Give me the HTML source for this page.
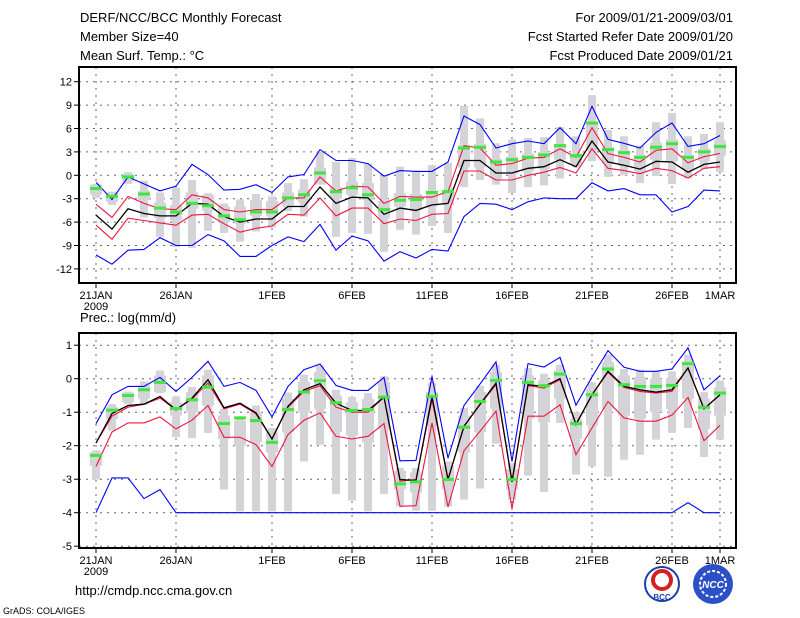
<!DOCTYPE html>
<html><head><meta charset="utf-8"><style>
body{margin:0;background:#fff;}
svg{display:block;font-family:"Liberation Sans",sans-serif;}
</style></head><body>
<svg id="c" width="800" height="618" viewBox="0 0 800 618">
<g font-size="13" fill="#000">
<text x="80" y="22">DERF/NCC/BCC Monthly Forecast</text>
<text x="80" y="41">Member Size=40</text>
<text x="80" y="60">Mean Surf. Temp.: °C</text>
</g>
<g font-size="13" fill="#000" text-anchor="end">
<text x="733" y="22">For 2009/01/21-2009/03/01</text>
<text x="733" y="41">Fcst Started Refer Date 2009/01/20</text>
<text x="733" y="60">Fcst Produced Date 2009/01/21</text>
</g>
<text x="80" y="322" font-size="13">Prec.: log(mm/d)</text>
<text x="75" y="595" font-size="13">http://cmdp.ncc.cma.gov.cn</text>
<text x="3" y="614" font-size="9">GrADS: COLA/IGES</text>
<g>
<circle cx="662" cy="584" r="17" fill="#fff" stroke="#1a3fa8" stroke-width="2"/>
<circle cx="662" cy="580" r="9" fill="none" stroke="#d42020" stroke-width="4"/>
<text x="662" y="600" font-size="8" text-anchor="middle" fill="#1a3fa8" font-weight="bold">BCC</text>
</g>
<g>
<circle cx="713" cy="584" r="20" fill="#2b50c8"/>
<circle cx="713" cy="584" r="13" fill="none" stroke="#fff" stroke-width="2" stroke-dasharray="3 2"/>
<text x="713" y="588" font-size="10" text-anchor="middle" fill="#fff" font-weight="bold" font-style="italic">NCC</text>
</g>
<g id="top"></g>
<g id="bot"></g>
</svg>
<script>
const dateLabels=["21JAN","26JAN","1FEB","6FEB","11FEB","16FEB","21FEB","26FEB","1MAR"];
const dateIdx=[0,5,11,16,21,26,31,36,39];
const topTicks=[12,9,6,3,0,-3,-6,-9,-12];
const botTicks=[1,0,-1,-2,-3,-4,-5];
const tMean=[-5.1,-6.9,-4.3,-4.9,-5.2,-5.2,-3.6,-3.7,-5.3,-6.0,-5.6,-5.6,-4.0,-4.0,-1.5,-3.6,-2.8,-2.9,-5.0,-4.2,-4.5,-3.8,-3.6,1.9,1.9,0.3,0.3,0.9,1.1,2.0,1.1,4.4,1.7,1.3,0.8,1.8,1.7,0.4,1.4,1.7];
const tRedHi=[-3.7,-5.4,-2.7,-3.6,-4.3,-4.4,-2.5,-2.9,-4.4,-4.7,-4.4,-4.4,-2.9,-2.9,-0.2,-2.0,-1.4,-1.5,-3.6,-2.7,-2.8,-2.8,-2.1,3.8,3.5,1.3,1.5,2.2,2.3,3.4,2.3,6.1,2.8,2.3,1.7,3.2,3.4,1.6,2.4,2.8];
const tRedLo=[-6.4,-8.2,-5.5,-5.8,-6.1,-6.4,-5.1,-5.0,-6.2,-7.3,-6.8,-6.5,-5.0,-5.1,-2.9,-5.2,-4.2,-4.2,-6.2,-5.6,-5.8,-5.0,-4.9,0.55,0.55,-0.6,-0.6,0,0.4,1.0,0.3,3.4,0.9,0.6,0.2,0.9,0.6,-0.35,0.9,1.1];
const tBlueHi=[-0.9,-3.1,-0.2,-1.1,-2.0,-1.4,1.4,0.1,-1.9,-1.8,-1.2,-2.2,-0.2,0.1,3.3,1.9,1.9,1.5,-0.1,0.6,0.5,0.5,1.7,7.6,6.5,3.5,4.05,4.4,4.05,6.1,4.05,8.85,4.6,4.1,3.5,5.5,6.7,3.7,4.05,5.1];
const tBlueLo=[-10.2,-11.4,-9.6,-9.5,-8.0,-9.0,-9.0,-7.6,-8.4,-10.4,-10.4,-9.0,-7.9,-8.5,-6.3,-9.6,-7.8,-8.4,-11.0,-9.8,-10.6,-9.5,-9.7,-5.3,-3.6,-3.7,-4.4,-3.4,-2.9,-3.0,-3.0,-0.95,-2.0,-1.7,-2.5,-2.5,-4.7,-4.0,-1.9,-2.0];
const tMax=[-1.1,-2.1,0.4,-0.7,-2.2,-1.6,-0.6,-2.3,-3.6,-3.1,-2.4,-2.7,-1.0,-0.5,3.0,1.7,2.2,1.5,0,1.1,0.6,1.3,1.6,8.9,7.3,4.1,4.6,4.8,4.9,6.2,5.0,10.3,5.8,5.0,3.8,6.8,8.0,5.0,5.3,6.8];
const tMin=[-2.9,-3.8,-1.1,-5.4,-7.9,-9.2,-9.3,-7.1,-7.4,-8.5,-7.2,-6.7,-4.6,-5.3,-0.3,-7.9,-7.4,-7.5,-9.8,-7.0,-7.6,-6.5,-7.4,-1.5,-0.6,-1.2,-2.3,-1.5,-1.3,-0.4,1.0,1.8,-0.2,0,-1.0,-0.1,-1.1,-0.4,0.8,0.4];
const tQ3=[-1.2,-2.3,0.2,-2.0,-3.5,-3.8,-2.2,-2.5,-4.0,-4.0,-3.2,-3.3,-2.2,-1.8,1.0,-1.5,-0.8,-1.0,-3.3,-2.3,-2.4,-2.0,-2.0,3.9,4.0,2.1,2.4,2.8,3.0,4.0,2.8,6.5,3.6,3.2,2.6,4.2,4.6,2.6,3.4,4.5];
const tQ1=[-2.5,-3.4,-0.8,-3.2,-5.5,-5.8,-4.3,-4.5,-6.0,-6.2,-5.2,-5.3,-4.0,-3.5,-1.2,-3.0,-2.5,-3.2,-5.5,-4.0,-4.5,-4.0,-3.8,1.0,1.0,-0.5,0.2,0.5,0.8,2.0,1.4,3.2,1.5,1.2,0.5,2.0,1.8,0.8,1.8,2.5];
const tObs=[-1.7,-2.7,-0.2,-2.4,-4.2,-4.7,-3.6,-3.9,-5.2,-5.7,-4.7,-4.7,-2.9,-2.5,0.3,-2.1,-1.6,-2.5,-4.4,-3.2,-3.1,-2.2,-2.1,3.5,3.6,1.7,2.0,2.3,2.6,3.8,2.5,6.7,3.3,2.9,2.3,3.6,4.05,2.3,3.0,3.7];
const pMean=[-1.92,-1.04,-0.8,-0.76,-0.53,-0.93,-0.58,-0.03,-0.87,-0.73,-1.02,-1.8,-0.82,-0.33,-0.15,-0.73,-0.95,-0.95,-0.55,-3.01,-3.04,-0.53,-3.01,-1.42,-0.76,-0.13,-3.08,-0.18,-0.23,0.0,-1.37,-0.48,0.22,-0.23,-0.33,-0.4,-0.33,0.32,-0.9,-0.48];
const pRedHi=[-1.92,-1.12,-0.85,-0.76,-0.58,-0.93,-0.61,-0.13,-0.9,-0.76,-1.05,-1.8,-0.85,-0.38,-0.21,-0.85,-1.0,-1.0,-0.55,-3.06,-3.01,-0.63,-3.01,-1.42,-0.78,-0.18,-3.06,-0.21,-0.28,-0.03,-1.35,-0.48,0.19,-0.26,-0.38,-0.43,-0.38,0.32,-0.9,-0.48];
const pRedLo=[-2.62,-1.59,-1.32,-1.32,-1.14,-1.5,-1.24,-0.8,-1.75,-1.75,-1.97,-2.62,-1.67,-1.24,-1.02,-1.72,-1.8,-1.72,-1.34,-3.81,-3.79,-1.32,-3.83,-2.15,-1.57,-0.97,-3.88,-1.12,-1.12,-0.78,-2.27,-1.47,-0.68,-1.17,-1.27,-1.27,-1.09,-0.56,-1.85,-1.39];
const pBlueHi=[-1.34,-0.48,-0.23,-0.23,0.04,-0.38,0.04,0.52,-0.23,-0.11,-0.35,-1.14,-0.23,0.27,0.44,-0.2,-0.35,-0.35,0.04,-2.45,-2.44,0.07,-2.37,-0.8,-0.16,0.5,-2.47,0.45,0.35,0.64,-0.79,0.05,0.84,0.34,0.22,0.22,0.29,0.92,-0.33,0.09];
const pBlueLo=[-4.0,-2.96,-2.96,-3.58,-3.31,-4,-4,-4,-4,-4,-4,-4,-4,-4,-4,-4,-4,-4,-4,-4,-4,-4,-4,-4,-4,-4,-4,-4,-4,-4,-4,-4,-4,-4,-4,-4,-4,-3.7,-4,-4];
const pMax=[-2.14,-0.76,-0.38,-0.08,0.24,-0.53,-0.25,0.27,-0.9,-1.12,-0.8,-1.47,-0.41,0.12,0.4,-0.33,-0.55,-0.43,0.07,-2.66,-2.67,-0.13,-2.47,-0.87,-0.21,0.42,-2.52,0.32,0.15,0.42,-0.99,-0.11,0.72,0.29,0.27,0.22,0.22,0.72,-0.4,-0.05];
const pMin=[-3.01,-1.55,-0.76,-0.78,-0.43,-1.74,-1.77,-1.62,-3.31,-3.96,-3.96,-3.96,-3.96,-2.47,-1.97,-3.44,-3.64,-3.96,-3.44,-3.81,-3.94,-3.94,-3.81,-3.61,-3.28,-1.94,-3.61,-2.89,-3.38,-1.32,-2.86,-2.62,-2.93,-2.42,-2.27,-1.82,-1.62,-1.47,-2.34,-1.82];
const pQ3=[-2.2,-0.85,-0.42,-0.2,0.1,-0.7,-0.4,0.1,-1.1,-1.25,-1.0,-1.6,-0.6,-0.1,0.2,-0.5,-0.7,-0.6,-0.1,-2.75,-2.8,-0.4,-2.6,-1.1,-0.4,0.2,-2.7,0.1,-0.05,0.25,-1.2,-0.3,0.5,0.1,0.05,0.0,0.0,0.5,-0.6,-0.25];
const pQ1=[-2.6,-1.2,-0.7,-0.6,-0.4,-1.1,-1.0,-0.8,-1.8,-2.0,-1.9,-2.2,-1.6,-1.0,-0.9,-1.6,-1.7,-1.9,-1.5,-3.3,-3.4,-1.4,-3.3,-2.2,-1.6,-0.9,-3.3,-1.2,-1.3,-0.6,-1.8,-1.4,-0.9,-1.1,-1.2,-1.0,-0.9,-0.6,-1.5,-1.1];
const pObs=[-2.29,-0.94,-0.5,-0.33,-0.11,-0.89,-0.63,-0.25,-1.34,-1.17,-1.25,-1.9,-0.92,-0.4,-0.06,-0.72,-0.95,-0.92,-0.55,-3.14,-3.08,-0.53,-3.01,-1.45,-0.68,-0.05,-3.01,-0.11,-0.21,0.14,-1.34,-0.48,0.29,-0.18,-0.23,-0.23,-0.2,0.45,-0.85,-0.43];

const NS="http://www.w3.org/2000/svg";
function mk(tag,attrs,parent){const e=document.createElementNS(NS,tag);for(const k in attrs)e.setAttribute(k,attrs[k]);parent.appendChild(e);return e;}
const x0=96,dx=16;
function xs(i){return x0+dx*i;}

function panel(g,cfg){
  const L=79,R=736,T=cfg.top,B=cfg.bottom;
  const y=cfg.y;
  for(const v of cfg.ticks){
    const gl=mk('line',{x1:L,x2:R,y1:y(v),y2:y(v),stroke:'#666','stroke-dasharray':'2 5','stroke-width':1},g);
    
    
    const tk=mk('line',{x1:L-5,x2:L,y1:y(v),y2:y(v),stroke:'#000','stroke-width':1},g);
    
    
    const tl=mk('text',{x:L-7,y:y(v)+4,'font-size':11,'text-anchor':'end'},g);
    tl.textContent=v;
    
    
  }
  dateIdx.forEach((di,k)=>{
    const xx=xs(di);
    const vl=mk('line',{x1:xx,x2:xx,y1:T,y2:B,stroke:'#666','stroke-dasharray':'2 5','stroke-width':1},g);
    
    
    const tk=mk('line',{x1:xx,x2:xx,y1:B,y2:B+5,stroke:'#000'},g);
    
    
    const t=mk('text',{x:xx,y:B+16,'font-size':11,'text-anchor':'middle'},g);
    t.textContent=dateLabels[k];
    
    
  });
  const yr=mk('text',{x:xs(0),y:B+27,'font-size':11,'text-anchor':'middle'},g);
  yr.textContent='2009';
  
  
  cfg.max.forEach((mx,i)=>{
    const cx=xs(i);
    const r1=mk('rect',{x:cx-4,y:y(mx),width:8,height:Math.max(1,y(cfg.min[i])-y(mx)),fill:'#d3d3d8'},g);
    
    
    const r2=mk('rect',{x:cx-6,y:y(cfg.q3[i]),width:12,height:Math.max(1,y(cfg.q1[i])-y(cfg.q3[i])),fill:'#d3d3d8'},g);
    
    
  });
  function line(arr,col,name,w){
    const p=mk('polyline',{points:arr.map((v,i)=>xs(i)+','+y(v).toFixed(1)).join(' '),fill:'none',stroke:col,'stroke-width':w||1.1},g);
    
    
  }
  line(cfg.blueLo,'#0000ff','lower-bound-line');
  line(cfg.blueHi,'#0000ff','upper-bound-line');
  line(cfg.redLo,'#f0143c','lower-spread-line');
  line(cfg.redHi,'#f0143c','upper-spread-line');
  line(cfg.mean,'#000','ensemble-mean-line',1.3);
  cfg.obs.forEach((v,i)=>{
    const r=mk('rect',{x:xs(i)-6,y:y(v)-1.5,width:12,height:3,fill:'#3ee63e'},g);
    
    
  });
  const fr=mk('rect',{x:L,y:T,width:R-L,height:B-T,fill:'none',stroke:'#000','stroke-width':2},g);
  
  
}
panel(document.getElementById('top'),{top:67,bottom:283,y:v=>175.3-v*7.8,ticks:topTicks,
  mean:tMean,redHi:tRedHi,redLo:tRedLo,blueHi:tBlueHi,blueLo:tBlueLo,max:tMax,min:tMin,q3:tQ3,q1:tQ1,obs:tObs});
panel(document.getElementById('bot'),{top:333,bottom:548,y:v=>378.7-v*33.5,ticks:botTicks,
  mean:pMean,redHi:pRedHi,redLo:pRedLo,blueHi:pBlueHi,blueLo:pBlueLo,max:pMax,min:pMin,q3:pQ3,q1:pQ1,obs:pObs});
</script>
</body></html>
